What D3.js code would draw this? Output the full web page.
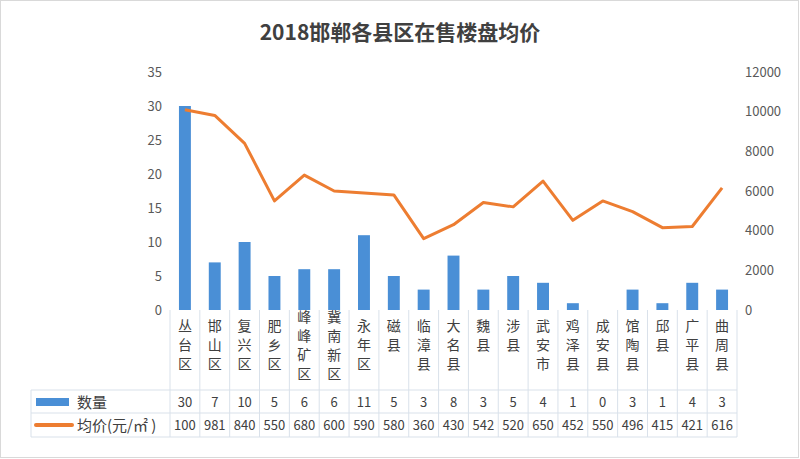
<!DOCTYPE html><html><head><meta charset="utf-8"><script src="https://cdn.jsdelivr.net/npm/d3@7"></script>
<style>body{margin:0;background:#fff}text{font-family:"Noto Sans CJK SC","Microsoft YaHei",sans-serif}</style></head><body><svg id="c" width="800" height="459"></svg>
<script>
const categories=["丛台区","邯山区","复兴区","肥乡区","峰峰矿区","冀南新区","永年区","磁县","临漳县","大名县","魏县","涉县","武安市","鸡泽县","成安县","馆陶县","邱县","广平县","曲周县"];
const counts=[30,7,10,5,6,6,11,5,3,8,3,5,4,1,0,3,1,4,3];
const prices=[10100,9810,8400,5500,6800,6000,5900,5800,3600,4300,5420,5200,6500,4520,5500,4960,4150,4210,6160];
const priceLabels=["100","981","840","550","680","600","590","580","360","430","542","520","650","452","550","496","415","421","616"];
const leftTicks=[0,5,10,15,20,25,30,35];
const rightTicks=[0,2000,4000,6000,8000,10000,12000];
const svg=d3.select("#c");
svg.append("rect").attr("x",0.5).attr("y",0.5).attr("width",798).attr("height",457).attr("fill","#fff").attr("stroke","#d9d9d9");
svg.append("text").attr("x",400).attr("y",40).attr("text-anchor","middle").attr("font-size",21).attr("font-weight","bold").attr("fill","#404040").text("2018邯郸各县区在售楼盘均价");
const L=170,R=737,T=72,B=310;
const x=d3.scaleBand().domain(categories).range([L,R]);
const yL=d3.scaleLinear().domain([0,35]).range([B,T]);
const yR=d3.scaleLinear().domain([0,12000]).range([B,T]);
const ax=svg.append("g").attr("transform",`translate(${L-8},0)`).call(d3.axisLeft(yL).tickValues(leftTicks).tickSize(0).tickPadding(0));
const ar=svg.append("g").attr("transform",`translate(${R+8},0)`).call(d3.axisRight(yR).tickValues(rightTicks).tickFormat(d3.format("d")).tickSize(0).tickPadding(0));
[ax,ar].forEach(a=>{a.select(".domain").remove();a.selectAll("text").attr("font-size",13).attr("fill","#595959").attr("font-family","Noto Sans CJK SC, sans-serif")});
const bw=x.bandwidth()*0.4;
svg.selectAll(".bar").data(counts).join("rect").attr("x",(d,i)=>x(categories[i])+x.bandwidth()/2-bw/2).attr("width",bw).attr("y",d=>yL(d)).attr("height",d=>B-yL(d)).attr("fill","#4a8fd6");
svg.append("path").datum(prices).attr("fill","none").attr("stroke","#ed7d31").attr("stroke-width",3).attr("stroke-linejoin","round")
 .attr("d",d3.line().x((d,i)=>x(categories[i])+x.bandwidth()/2).y(d=>yR(d)));
const g=svg.append("g").attr("stroke","#d9e1ea").attr("fill","none");
const r1=390,r2=413,r3=437,TL=31;
categories.forEach((c,i)=>{g.append("line").attr("x1",x(c)).attr("x2",x(c)).attr("y1",B).attr("y2",r3);});
g.append("line").attr("x1",R).attr("x2",R).attr("y1",B).attr("y2",r3);
g.append("line").attr("x1",TL).attr("x2",TL).attr("y1",r1).attr("y2",r3);
[r1,r2,r3].forEach(y=>g.append("line").attr("x1",TL).attr("x2",R).attr("y1",y).attr("y2",y));
categories.forEach((c,i)=>{
 const cx=x(c)+x.bandwidth()/2;const chars=[...c];
 const start=chars.length===4?322:331;
 chars.forEach((ch,j)=>svg.append("text").attr("x",cx).attr("y",start+j*19).attr("text-anchor","middle").attr("font-size",14).attr("fill","#404040").text(ch));
 svg.append("text").attr("x",cx).attr("y",r1+17).attr("text-anchor","middle").attr("font-size",13).attr("fill","#404040").text(counts[i]);
 svg.append("text").attr("x",cx).attr("y",r2+17).attr("text-anchor","middle").attr("font-size",13).attr("fill","#404040").text(priceLabels[i]);
});
svg.append("rect").attr("x",36).attr("y",398).attr("width",33).attr("height",8).attr("fill","#4a8fd6");
svg.append("text").attr("x",77).attr("y",408).attr("font-size",15).attr("fill","#404040").text("数量");
svg.append("line").attr("x1",36).attr("x2",72).attr("y1",425).attr("y2",425).attr("stroke","#ed7d31").attr("stroke-width",4).attr("stroke-linecap","round");
svg.append("text").attr("x",77).attr("y",431).attr("font-size",15).attr("fill","#404040").text("均价(元/㎡ )");
</script></body></html>
